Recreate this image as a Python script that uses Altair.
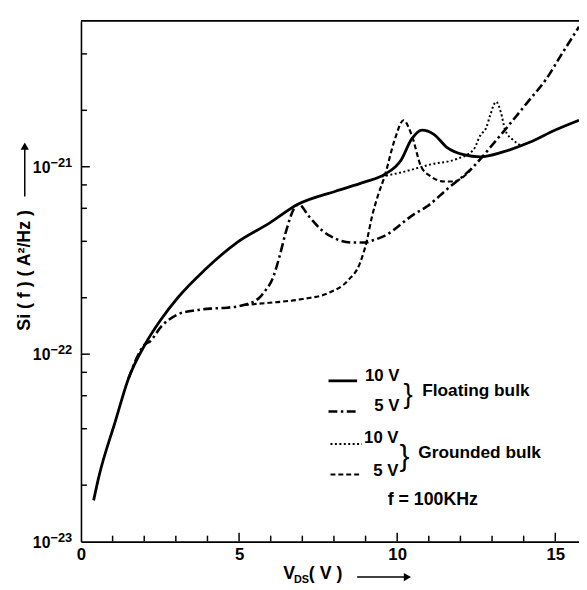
import altair as alt
import pandas as pd

# ---- data (V_DS in volts, Si(f) in A^2/Hz) ----
solid_v = [0.40, 0.56, 1.09, 1.50, 2.03, 2.53, 3.06, 3.90, 4.93, 5.96, 6.86, 8.05, 8.98, 9.60,
           10.13, 10.45, 10.79, 11.16, 11.57, 12.10, 12.63, 13.35, 14.19, 15.00, 15.75]
solid_s = [1.66e-23, 2.20e-23, 4.4e-23, 7.4e-23, 1.13e-22, 1.53e-22, 2.00e-22, 2.80e-22, 3.94e-22,
           5.0e-22, 6.3e-22, 7.4e-22, 8.3e-22, 9.1e-22, 1.09e-21, 1.40e-21, 1.57e-21, 1.49e-21,
           1.27e-21, 1.16e-21, 1.13e-21, 1.20e-21, 1.35e-21, 1.57e-21, 1.77e-21]

dashdot_v = [1.50, 2.03, 2.18, 2.53, 3.06, 3.59, 4.09, 4.62, 5.15, 5.64, 5.77, 6.08, 6.27, 6.49,
             6.74, 6.89, 7.20, 7.64, 8.05, 8.58, 8.98, 9.23, 9.60, 10.54, 10.95, 11.57, 12.41,
             13.03, 13.35, 14.19, 14.69, 15.22, 15.75]
dashdot_s = [7.4e-23, 1.13e-22, 1.17e-22, 1.40e-22, 1.63e-22, 1.71e-22, 1.75e-22, 1.77e-22,
             1.83e-22, 2.00e-22, 2.12e-22, 2.58e-22, 3.28e-22, 4.55e-22, 6.0e-22, 6.3e-22,
             5.46e-22, 4.55e-22, 4.13e-22, 3.94e-22, 3.94e-22, 4.05e-22, 4.28e-22, 5.59e-22,
             6.15e-22, 7.57e-22, 1.0e-21, 1.32e-21, 1.53e-21, 2.28e-21, 2.90e-21, 4.03e-21, 5.58e-21]

dashed_v = [5.15, 5.96, 7.02, 7.83, 8.45, 8.82, 9.04, 9.20, 9.39, 9.60, 9.92, 10.20, 10.45,
            10.76, 11.07, 11.48, 11.79, 12.10, 12.41]
dashed_s = [1.83e-22, 1.88e-22, 1.97e-22, 2.12e-22, 2.48e-22, 3.05e-22, 4.03e-22, 5.4e-22,
            7.0e-22, 8.86e-22, 1.39e-21, 1.77e-21, 1.49e-21, 1.0e-21, 8.86e-22, 8.34e-22,
            8.34e-22, 8.86e-22, 1.0e-21]

dotted_v = [9.51, 10.23, 11.07, 11.88, 12.41, 12.63, 12.82, 12.94, 13.13, 13.28, 13.41, 13.66, 13.91]
dotted_s = [8.86e-22, 9.42e-22, 1.03e-21, 1.10e-21, 1.23e-21, 1.47e-21, 1.62e-21, 1.88e-21,
            2.22e-21, 1.95e-21, 1.58e-21, 1.39e-21, 1.30e-21]

x_ticks_minor = [1, 2, 3, 4, 6, 7, 8, 9, 11, 12, 13, 14]
x_ticks_major = [5, 10, 15]
x_labels = [0, 5, 10, 15]
y_ticks_minor = [2e-23, 4e-23, 6e-23, 8e-23, 2e-22, 4e-22, 6e-22, 8e-22, 2e-21, 4e-21]
y_ticks_major = [1e-22, 1e-21]
y_labels = [1e-23, 1e-22, 1e-21]
y_label_exps = ["−23", "−22", "−21"]

W, H = 505, 528
FONT = "Liberation Sans"

xs = alt.Scale(domain=[0, 15.75], nice=False, zero=False)
ys = alt.Scale(type="log", domain=[1e-23, 6e-21], nice=False)


def curve(v, s, width, dash=None):
    df = pd.DataFrame({"V": v, "S": s})
    kw = dict(color="black", strokeWidth=width, interpolate="monotone", clip=True)
    if dash is not None:
        kw["strokeDash"] = dash
    return alt.Chart(df).mark_line(**kw).encode(
        x=alt.X("V:Q", scale=xs, axis=alt.Axis(
            values=x_labels, ticks=False, grid=False, title=None, domainColor="black",
            domainWidth=1.6, labelFont=FONT, labelFontSize=17, labelFontWeight="bold",
            labelColor="black", labelPadding=5, labelFlush=False)),
        y=alt.Y("S:Q", scale=ys, axis=alt.Axis(
            values=y_labels, ticks=False, grid=False, title=None, domainColor="black",
            domainWidth=1.6, labels=False)),
    )


solid = curve(solid_v, solid_s, 2.8)
dashdot = curve(dashdot_v, dashdot_s, 2.6, [9, 3.5, 2.5, 3.5])
dashed = curve(dashed_v, dashed_s, 2.2, [5, 3])
dotted = curve(dotted_v, dotted_s, 2.0, [2, 2.5])

one = pd.DataFrame({"a": [0]})

xtmin = alt.Chart(pd.DataFrame({"V": x_ticks_minor})).mark_rule(color="black", strokeWidth=1.5).encode(
    x=alt.X("V:Q", scale=xs), y=alt.value(H), y2=alt.value(H - 6))
xtmaj = alt.Chart(pd.DataFrame({"V": x_ticks_major})).mark_rule(color="black", strokeWidth=1.5).encode(
    x=alt.X("V:Q", scale=xs), y=alt.value(H), y2=alt.value(H - 9))
ytmin = alt.Chart(pd.DataFrame({"S": y_ticks_minor})).mark_rule(color="black", strokeWidth=1.5).encode(
    y=alt.Y("S:Q", scale=ys), x=alt.value(0), x2=alt.value(6))
ytmaj = alt.Chart(pd.DataFrame({"S": y_ticks_major})).mark_rule(color="black", strokeWidth=1.5).encode(
    y=alt.Y("S:Q", scale=ys), x=alt.value(0), x2=alt.value(9))

ylab_df = pd.DataFrame({"S": y_labels, "exp": y_label_exps})
ylab10 = alt.Chart(ylab_df).mark_text(text="10", align="right", baseline="middle", fontSize=16,
                                      fontWeight="bold", font=FONT, color="black", dy=1).encode(
    y=alt.Y("S:Q", scale=ys), x=alt.value(-31))
ylabexp = alt.Chart(ylab_df).mark_text(align="left", baseline="middle", fontSize=13,
                                       fontWeight="bold", font=FONT, color="black", dy=-4).encode(
    y=alt.Y("S:Q", scale=ys), x=alt.value(-31), text="exp:N")

top = alt.Chart(one).mark_rule(color="black", strokeWidth=1.6).encode(
    x=alt.value(0), x2=alt.value(W), y=alt.value(0))


def seg(x1, x2, y, width, dash=None):
    kw = dict(color="black", strokeWidth=width)
    if dash is not None:
        kw["strokeDash"] = dash
    return alt.Chart(one).mark_rule(**kw).encode(x=alt.value(x1), x2=alt.value(x2), y=alt.value(y))


def txt(s, x, y, size=17, align="left", weight="bold", angle=0, font=FONT):
    return alt.Chart(one).mark_text(text=s, align=align, baseline="middle", fontSize=size,
                                    fontWeight=weight, font=font, color="black", angle=angle).encode(
        x=alt.value(x), y=alt.value(y))


legend = [
    seg(251, 280, 365, 2.8),
    seg(251, 280, 396, 2.6, [9, 3.5, 2.5, 3.5]),
    seg(253, 285, 429, 2.0, [2, 2.5]),
    seg(253, 285, 460, 2.2, [5, 3]),
    txt("10 V", 323, 360, align="right"),
    txt("5 V", 323, 391, align="right"),
    txt("10 V", 322, 423, align="right"),
    txt("5 V", 322, 456, align="right"),
    txt("}", 327, 379, size=28, weight="normal"),
    txt("}", 323, 442, size=30, weight="normal"),
    txt("Floating bulk", 346, 375, size=17.5),
    txt("Grounded  bulk", 342, 438, size=17.5),
    txt("f = 100KHz", 311, 486, size=18),
]

# axis titles
titles = [
    txt("Si ( f ) ( A²/Hz )", -57, 253, size=18, angle=270, align="center"),
    alt.Chart(one).mark_rule(color="black", strokeWidth=1.5).encode(
        x=alt.value(-57), y=alt.value(178), y2=alt.value(130)),
    alt.Chart(one).mark_point(shape="triangle-up", filled=True, color="black", size=70, opacity=1).encode(
        x=alt.value(-57), y=alt.value(127)),
    txt("V", 205, 561, size=18),
    txt("DS", 216, 567, size=11),
    txt("( V )", 231, 561, size=18),
    alt.Chart(one).mark_rule(color="black", strokeWidth=1.5).encode(
        x=alt.value(280), x2=alt.value(328), y=alt.value(564)),
    alt.Chart(one).mark_point(shape="triangle-right", filled=True, color="black", size=70, opacity=1).encode(
        x=alt.value(331), y=alt.value(564)),
]

chart = alt.layer(
    solid, dashdot, dashed, dotted, xtmin, xtmaj, ytmin, ytmaj, ylab10, ylabexp, top, *legend, *titles
).properties(
    width=W, height=H,
    autosize=alt.AutoSizeParams(type="none"),
    padding={"left": 74, "top": 9, "right": 0, "bottom": 44},
    background="white",
).configure_view(stroke=None)

chart.save("out.html", embed_options={"renderer": "svg", "actions": False})
